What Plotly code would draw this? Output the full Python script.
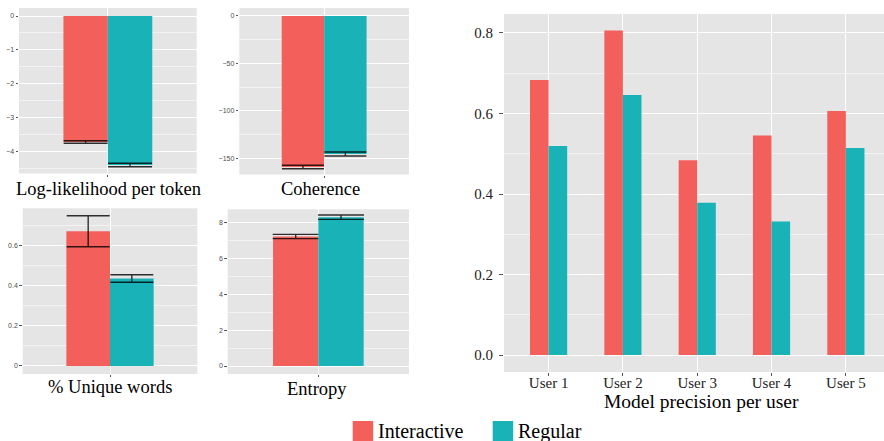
import plotly.graph_objects as go

W, H = 884, 441

# ---------------- data ----------------
groups = ["Interactive", "Regular"]
users = ["User 1", "User 2", "User 3", "User 4", "User 5"]
precision_interactive = [0.683, 0.806, 0.484, 0.545, 0.606]
precision_regular = [0.519, 0.646, 0.378, 0.332, 0.514]

loglik_mean = [-3.714, -4.392]
loglik_err = [0.038, 0.050]
coherence_mean = [-159.2, -145.5]
coherence_err = [1.8, 2.1]
unique_mean = [0.670, 0.435]
unique_err = [0.077, 0.019]
entropy_mean = [7.23, 8.31]
entropy_err = [0.12, 0.12]

panel_titles = ["Log-likelihood per token", "Coherence", "% Unique words", "Entropy",
                "Model precision per user"]

# ---------------- style ----------------
RED = "#F35F5B"
TEAL = "#18B2B7"
COLORS = [RED, TEAL]
BG = "#E5E5E5"
MINOR = "#F2F2F2"
SERIF = "Liberation Serif"
SANS = "Liberation Sans"


def px_x(p):
    return p / W


def px_y(p):
    return 1 - p / H


fig = go.Figure()

small = [
    (loglik_mean, loglik_err, "x", "y", 22),
    (coherence_mean, coherence_err, "x2", "y2", 21),
    (unique_mean, unique_err, "x3", "y3", 21.5),
    (entropy_mean, entropy_err, "x4", "y4", 23),
]
for means, errs, xa, ya, cap in small:
    for i, g in enumerate(groups):
        fig.add_trace(go.Bar(
            x=["m"], y=[means[i]], name=g, marker_color=COLORS[i],
            marker_line_width=0, xaxis=xa, yaxis=ya, showlegend=False,
            offsetgroup=str(i),
            error_y=dict(type="data", array=[errs[i]], visible=True,
                         color="rgba(0,0,0,0.8)", thickness=1.4, width=cap),
        ))

fig.add_trace(go.Bar(x=users, y=precision_interactive, name=groups[0],
                     marker_color=RED, marker_line_width=0,
                     xaxis="x5", yaxis="y5", showlegend=False, offsetgroup="0"))
fig.add_trace(go.Bar(x=users, y=precision_regular, name=groups[1],
                     marker_color=TEAL, marker_line_width=0,
                     xaxis="x5", yaxis="y5", showlegend=False, offsetgroup="1"))


def small_x(domain, anchor):
    return dict(domain=domain, anchor=anchor, range=[-0.5, 0.5], type="category",
                showticklabels=False, ticks="outside", ticklen=2, tickcolor="#555555",
                showgrid=True, gridcolor="white", gridwidth=1.1, zeroline=False,
                showline=False, fixedrange=True)


def small_y(domain, anchor, rng, dtick, minor):
    return dict(domain=domain, anchor=anchor, range=rng, dtick=dtick, tick0=0,
                ticks="outside", ticklen=2.5, tickcolor="#555555",
                tickfont=dict(family=SANS, size=7, color="#4D4D4D"),
                showgrid=True, gridcolor="white", gridwidth=1.1, zeroline=False,
                showline=False,
                minor=dict(dtick=minor, tick0=0, showgrid=True, gridcolor=MINOR,
                           gridwidth=0.7, ticks=""))


fig.update_layout(
    width=W, height=H,
    margin=dict(l=0, r=0, t=0, b=0),
    paper_bgcolor="white", plot_bgcolor=BG,
    barmode="group", bargap=0.5, bargroupgap=0,
    xaxis=small_x([px_x(19), px_x(196.7)], "y"),
    yaxis=small_y([px_y(173.5), px_y(8)], "x", [-4.643, 0.236], 1, 0.5),
    xaxis2=small_x([px_x(239.3), px_x(409)], "y2"),
    yaxis2=small_y([px_y(174.5), px_y(8)], "x2", [-167.1, 8.4], 50, 25),
    xaxis3=small_x([px_x(22.7), px_x(197.3)], "y3"),
    yaxis3=small_y([px_y(374), px_y(208.3)], "x3", [-0.0398, 0.784], 0.2, 0.1),
    xaxis4=small_x([px_x(227.7), px_x(409)], "y4"),
    yaxis4=small_y([px_y(374), px_y(209.3)], "x4", [-0.447, 8.75], 2, 1),
    xaxis5=dict(domain=[px_x(504), 1.0], anchor="y5", range=[-0.6, 4.513],
                type="category", ticks="outside", ticklen=3, tickcolor="#555555",
                ticklabelstandoff=-6,
                tickfont=dict(family=SERIF, size=15, color="#222222"),
                showgrid=True, gridcolor="white", gridwidth=1.3, zeroline=False,
                showline=False),
    yaxis5=dict(domain=[px_y(372), px_y(14)], anchor="x5", range=[-0.042, 0.847],
                dtick=0.2, tick0=0, tickformat=".1f", ticks="outside", ticklen=4,
                tickcolor="#555555", ticklabelstandoff=3,
                tickfont=dict(family=SERIF, size=15, color="#222222"),
                showgrid=True, gridcolor="white", gridwidth=1.3, zeroline=False,
                showline=False,
                minor=dict(dtick=0.1, tick0=0, showgrid=True, gridcolor=MINOR,
                           gridwidth=0.8, ticks="")),
    showlegend=False,
)

# panel titles
title_pos = [(108, 189, 18.5), (320.5, 189, 18.5), (110.3, 387, 18.5),
             (317.3, 389, 18.5), (701.5, 401, 19.5)]
for t, (cx, cy, fs) in zip(panel_titles, title_pos):
    fig.add_annotation(text=t, x=px_x(cx), y=px_y(cy), xref="paper", yref="paper",
                       xanchor="center", yanchor="middle", showarrow=False,
                       font=dict(family=SERIF, size=fs, color="black"))

# legend
legend_items = [(352.7, groups[0], RED), (492.7, groups[1], TEAL)]
for lx, label, col in legend_items:
    fig.add_shape(type="rect", xref="paper", yref="paper",
                  x0=px_x(lx), x1=px_x(lx + 20.5), y0=px_y(441), y1=px_y(421),
                  fillcolor=col, line_width=0)
    fig.add_annotation(text=label, x=px_x(lx + 23.5), y=px_y(431), xref="paper",
                       yref="paper", xanchor="left", yanchor="middle",
                       showarrow=False,
                       font=dict(family=SERIF, size=20, color="black"))

fig.write_html("out.html", config={"displayModeBar": False},
               post_script="document.body.style.margin='0px';"
                           "document.body.style.overflow='hidden';")
